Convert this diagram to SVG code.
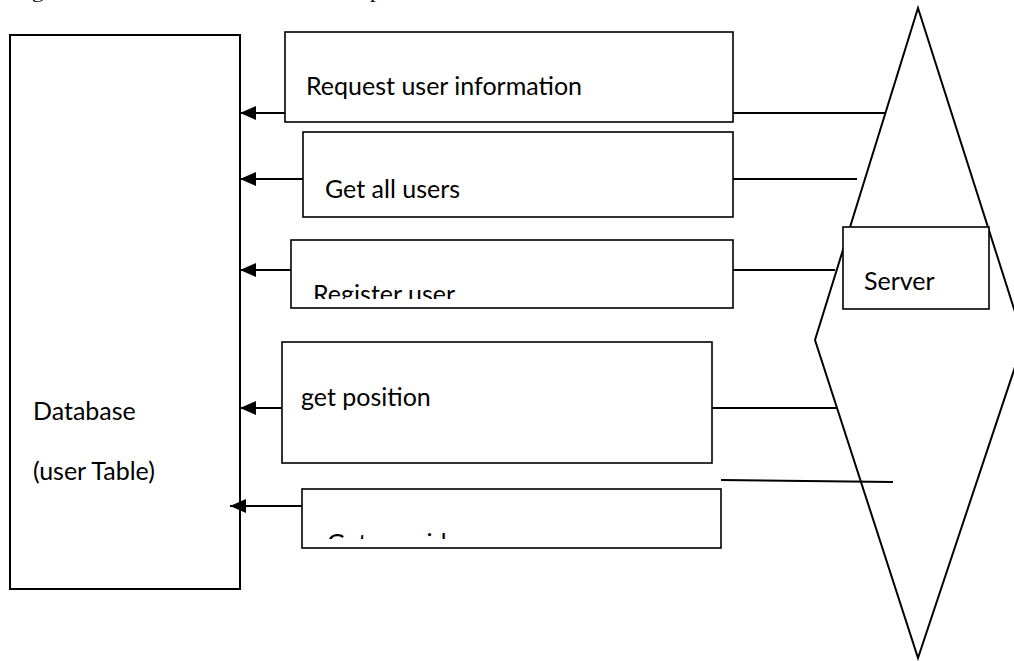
<svg xmlns="http://www.w3.org/2000/svg" width="1014" height="661" viewBox="0 0 1014 661">
<style>
.box{fill:#fff;stroke:#000;stroke-width:1.6}
.db{fill:#fff;stroke:#000;stroke-width:2}
.ln{fill:none;stroke:#000;stroke-width:2.2}
.t{font-family:Lato,"Open Sans",sans-serif;font-size:25px;fill:#000}
.cap{font-family:"Liberation Serif",serif;font-size:16px;fill:#000}
</style>
<defs>
<marker id="ah" markerWidth="16" markerHeight="14" refX="16" refY="7" orient="auto" markerUnits="userSpaceOnUse">
<path d="M0,0 L16,7 L0,14 Z" fill="#000"/>
</marker>
<clipPath id="c3"><rect x="291" y="240" width="442" height="59"/></clipPath>
<clipPath id="c5"><rect x="302" y="489" width="419" height="50"/></clipPath>
</defs>
<rect width="1014" height="661" fill="#fff"/>
<text class="cap" x="13" y="-2" textLength="487" lengthAdjust="spacingAndGlyphs">Fig 4: Access to user table for Server's position flows</text>

<g id="server-diamond">
<polygon points="918,8 815,340 918,658 1024,340" fill="#fff" stroke="#000" stroke-width="2"/>
</g>

<g id="database">
<rect class="db" x="10" y="35" width="230" height="554"/>
<text class="t" x="33" y="420">Database</text>
<text class="t" x="33" y="480">(user Table)</text>
</g>

<g id="box-request">
<rect class="box" x="285" y="32" width="448" height="90"/>
<text class="t" x="306" y="95">Request user information</text>
</g>
<g id="box-getall">
<rect class="box" x="303" y="132" width="430" height="85"/>
<text class="t" x="325" y="198">Get all users</text>
</g>
<g id="box-register">
<rect class="box" x="291" y="240" width="442" height="68"/>
<text class="t" x="313" y="303" clip-path="url(#c3)">Register user</text>
</g>
<g id="box-position">
<rect class="box" x="282" y="342" width="430" height="121"/>
<text class="t" x="301" y="406">get position</text>
</g>
<g id="box-getuser">
<rect class="box" x="302" y="489" width="419" height="59"/>
<text class="t" x="327" y="552" clip-path="url(#c5)">Get user id</text>
</g>

<g id="server">
<rect class="box" x="843" y="227" width="146" height="82"/>
<text class="t" x="864" y="290">Server</text>
</g>

<g id="connectors">
<line class="ln" x1="285" y1="113" x2="240" y2="113" marker-end="url(#ah)"/>
<line class="ln" x1="303" y1="179" x2="240" y2="179" marker-end="url(#ah)"/>
<line class="ln" x1="291" y1="270" x2="240" y2="270" marker-end="url(#ah)"/>
<line class="ln" x1="282" y1="408" x2="240" y2="408" marker-end="url(#ah)"/>
<line class="ln" x1="302" y1="506" x2="230" y2="506" marker-end="url(#ah)"/>
<line class="ln" x1="733" y1="113" x2="885" y2="113"/>
<line class="ln" x1="733" y1="179" x2="857" y2="179"/>
<line class="ln" x1="733" y1="270" x2="835" y2="270"/>
<line class="ln" x1="712" y1="408" x2="836" y2="408"/>
<line class="ln" x1="721" y1="480" x2="893" y2="482"/>
</g>
</svg>
